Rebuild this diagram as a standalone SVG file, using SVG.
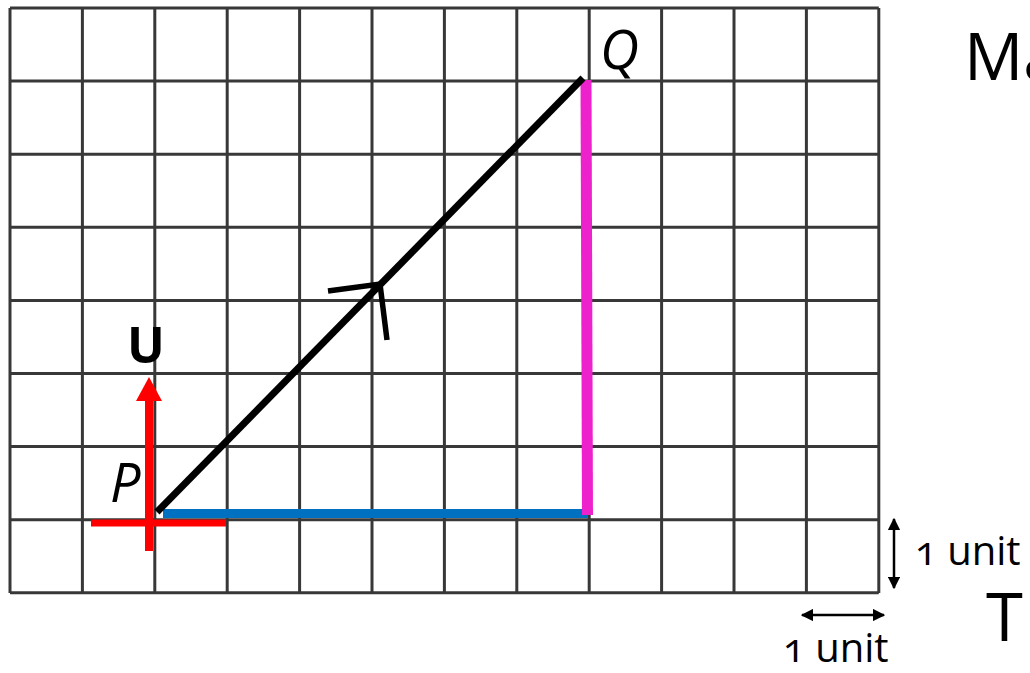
<svg xmlns="http://www.w3.org/2000/svg" width="1030" height="673" viewBox="0 0 1030 673">
<style>
.grid line{stroke:#383838;stroke-width:3}
.lbl{font-family:"Open Sans","Noto Sans",sans-serif;fill:#000}
.it{font-style:italic}
.unit{font-family:"Open Sans","Noto Sans",sans-serif;font-size:40px;font-variant-numeric:oldstyle-nums;font-feature-settings:"onum" 1}
</style>
<defs>
<marker id="dbl" viewBox="0 0 10 10" refX="9" refY="5" markerWidth="5" markerHeight="5" orient="auto-start-reverse" markerUnits="strokeWidth">
<path d="M0,0 L10,5 L0,10 z" fill="#000"/>
</marker>
</defs>
<rect width="1030" height="673" fill="#fff"/>
<g id="grid" class="grid">
<line x1="10" y1="8" x2="10" y2="593"/>
<line x1="82.4" y1="8" x2="82.4" y2="593"/>
<line x1="154.8" y1="8" x2="154.8" y2="593"/>
<line x1="227.2" y1="8" x2="227.2" y2="593"/>
<line x1="299.6" y1="8" x2="299.6" y2="593"/>
<line x1="372" y1="8" x2="372" y2="593"/>
<line x1="444.4" y1="8" x2="444.4" y2="593"/>
<line x1="516.8" y1="8" x2="516.8" y2="593"/>
<line x1="589.2" y1="8" x2="589.2" y2="593"/>
<line x1="661.6" y1="8" x2="661.6" y2="593"/>
<line x1="734" y1="8" x2="734" y2="593"/>
<line x1="806.4" y1="8" x2="806.4" y2="593"/>
<line x1="878.8" y1="8" x2="878.8" y2="593"/>
<line x1="10" y1="8" x2="878.8" y2="8"/>
<line x1="10" y1="81.1" x2="878.8" y2="81.1"/>
<line x1="10" y1="154.2" x2="878.8" y2="154.2"/>
<line x1="10" y1="227.3" x2="878.8" y2="227.3"/>
<line x1="10" y1="300.4" x2="878.8" y2="300.4"/>
<line x1="10" y1="373.5" x2="878.8" y2="373.5"/>
<line x1="10" y1="446.6" x2="878.8" y2="446.6"/>
<line x1="10" y1="519.7" x2="878.8" y2="519.7"/>
<line x1="10" y1="592.8" x2="878.8" y2="592.8"/>
</g>
<g id="connectors">
<line id="blue" x1="163" y1="513.5" x2="588" y2="513.5" stroke="#0070C0" stroke-width="9"/>
<line id="magenta" x1="586" y1="80" x2="587.5" y2="515" stroke="#EE22CC" stroke-width="11"/>
<line id="pq" x1="157" y1="512" x2="583" y2="78" stroke="#000" stroke-width="7"/>
<polyline id="chevron" points="328,291 380,284 387,340" fill="none" stroke="#000" stroke-width="5.5"/>
<line id="red-h" x1="91" y1="523" x2="226" y2="523" stroke="#FF0000" stroke-width="7"/>
<line id="red-v" x1="149" y1="551" x2="149" y2="398" stroke="#FF0000" stroke-width="8"/>
<path id="red-head" d="M149,377 L162,401 L136,401 Z" fill="#FF0000"/>
<line id="unit-v" x1="894" y1="519" x2="894" y2="588" stroke="#000" stroke-width="2.5" marker-start="url(#dbl)" marker-end="url(#dbl)"/>
<line id="unit-h" x1="802" y1="615" x2="884" y2="615" stroke="#000" stroke-width="2.5" marker-start="url(#dbl)" marker-end="url(#dbl)"/>
</g>
<g id="node-P"><text class="lbl it" x="110" y="502" font-size="54">P</text></g>
<g id="node-Q"><text class="lbl it" x="600" y="69" font-size="54">Q</text></g>
<g id="node-U"><text class="lbl" x="127" y="363" font-size="50" font-weight="bold">U</text></g>
<g id="label-M"><text class="lbl" x="964" y="80" font-size="66">Ma</text></g>
<g id="label-T"><text class="lbl" x="986" y="641" font-size="67">T</text></g>
<g id="label-unit-v"><text class="unit" x="915" y="565">1 unit</text></g>
<g id="label-unit-h"><text class="unit" x="783" y="662" font-size="39">1 unit</text></g>
</svg>
